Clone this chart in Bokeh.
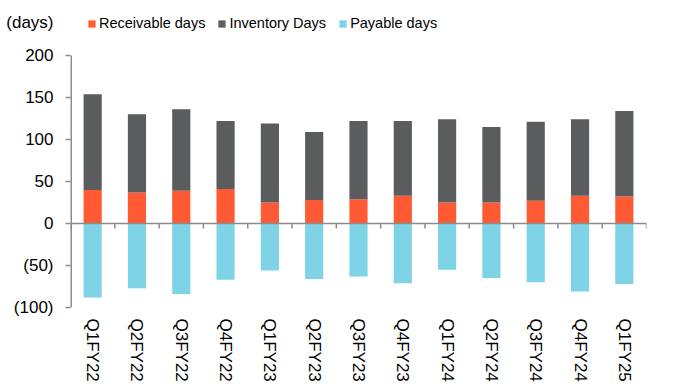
import numpy as np
from bokeh.plotting import figure
from bokeh.models import ColumnDataSource, FixedTicker, Legend, LegendItem, Span
from bokeh.embed import file_html
from bokeh.resources import INLINE

quarters = ["Q1FY22", "Q2FY22", "Q3FY22", "Q4FY22", "Q1FY23", "Q2FY23", "Q3FY23",
            "Q4FY23", "Q1FY24", "Q2FY24", "Q3FY24", "Q4FY24", "Q1FY25"]
receivable_days = [40, 37, 39, 41, 25, 28, 29, 33, 25, 25, 27, 33, 32]
inventory_days = [114, 93, 97, 81, 94, 81, 93, 89, 99, 90, 94, 91, 102]
payable_days = [-88, -77, -84, -67, -56, -66, -63, -71, -55, -65, -70, -81, -72]
y_ticks = [-100, -50, 0, 50, 100, 150, 200]
y_tick_labels = ["(100)", "(50)", "0", "50", "100", "150", "200"]
unit_label = "(days)"

RED = "#FF5A33"
GRAY = "#5B5C5E"
BLUE = "#7ED3E7"
AXIS = "#8C8C8C"
FONT = "Liberation Sans"

# layout (pixels) and the derived y extent so 200..-100 spans the reference plot box
FRAME_TOP, FRAME_BOTTOM, LEGEND_MID = 5, 307, 24
px_per_unit = 0.84
y_top = y_ticks[-1] + (55 - FRAME_TOP) / px_per_unit
unit_pos = y_ticks[-1] + (55 - LEGEND_MID + 2) / px_per_unit

n = len(quarters)
xs = np.arange(n) + 0.5
rec = np.array(receivable_days, dtype=float)
inv = np.array(inventory_days, dtype=float)
pay = np.array(payable_days, dtype=float)
src = ColumnDataSource(dict(x=xs, rec=rec, inv_top=rec + inv, pay=pay))

p = figure(width=676, height=385, x_range=(0, n), y_range=(y_ticks[0], y_top),
           output_backend="svg", toolbar_location=None,
           min_border_left=70, min_border_right=30, min_border_top=FRAME_TOP,
           min_border_bottom=385 - FRAME_BOTTOM)
p.outline_line_color = None
p.xgrid.visible = False
p.ygrid.visible = False

bw = 0.41
r1 = p.vbar(x="x", width=bw, bottom=0, top="rec", fill_color=RED, line_color=None, source=src)
r2 = p.vbar(x="x", width=bw, bottom="rec", top="inv_top", fill_color=GRAY, line_color=None, source=src)
r3 = p.vbar(x="x", width=bw, bottom="pay", top=0, fill_color=BLUE, line_color=None, source=src)

# y axis line only over the value range
p.segment(x0=[0], y0=[y_ticks[0]], x1=[0], y1=[y_ticks[-1]], line_color=AXIS, line_width=3)

# zero axis line with category-boundary ticks
p.add_layout(Span(location=0, dimension="width", line_color=AXIS, line_width=1.5))
bounds = np.arange(n + 1)
p.segment(x0=bounds, y0=np.zeros(n + 1), x1=bounds, y1=np.full(n + 1, -6.0),
          line_color=AXIS, line_width=1.5)

# x axis (labels only)
xa = p.xaxis[0]
xa.ticker = FixedTicker(ticks=list(xs))
xa.major_label_overrides = {float(x): q for x, q in zip(xs, quarters)}
xa.major_label_orientation = "vertical"
xa.axis_line_color = None
xa.major_tick_line_color = None
xa.major_tick_out = 0
xa.minor_tick_line_color = None
xa.major_label_standoff = 11
xa.major_label_text_font = FONT
xa.major_label_text_font_size = "17px"
xa.major_label_text_color = "#000000"

# y axis: value labels plus the unit caption, tick marks only at values
ya = p.yaxis[0]
ya.ticker = FixedTicker(ticks=y_ticks + [unit_pos], minor_ticks=y_ticks)
overrides = {float(t): l for t, l in zip(y_ticks, y_tick_labels)}
overrides[float(unit_pos)] = unit_label
ya.major_label_overrides = overrides
ya.axis_line_color = None
ya.major_tick_line_color = None
ya.major_tick_in = 0
ya.major_tick_out = 5
ya.minor_tick_line_color = AXIS
ya.minor_tick_line_width = 1.5
ya.minor_tick_in = 0
ya.minor_tick_out = 5
ya.major_label_standoff = 12
ya.major_label_text_font = FONT
ya.major_label_text_font_size = "17px"
ya.major_label_text_color = "#000000"

legend = Legend(items=[LegendItem(label="Receivable days", renderers=[r1]),
                       LegendItem(label="Inventory Days", renderers=[r2]),
                       LegendItem(label="Payable days", renderers=[r3])],
                orientation="horizontal",
                location=(17, FRAME_BOTTOM - (LEGEND_MID + 9)),
                glyph_width=9, glyph_height=9, label_standoff=3, spacing=12,
                padding=0, margin=0, border_line_color=None, background_fill_alpha=0,
                label_text_font=FONT, label_text_font_size="14.5px",
                label_text_color="#000000", label_height=20)
p.add_layout(legend)

open("out.html", "w").write(file_html(p, INLINE))
